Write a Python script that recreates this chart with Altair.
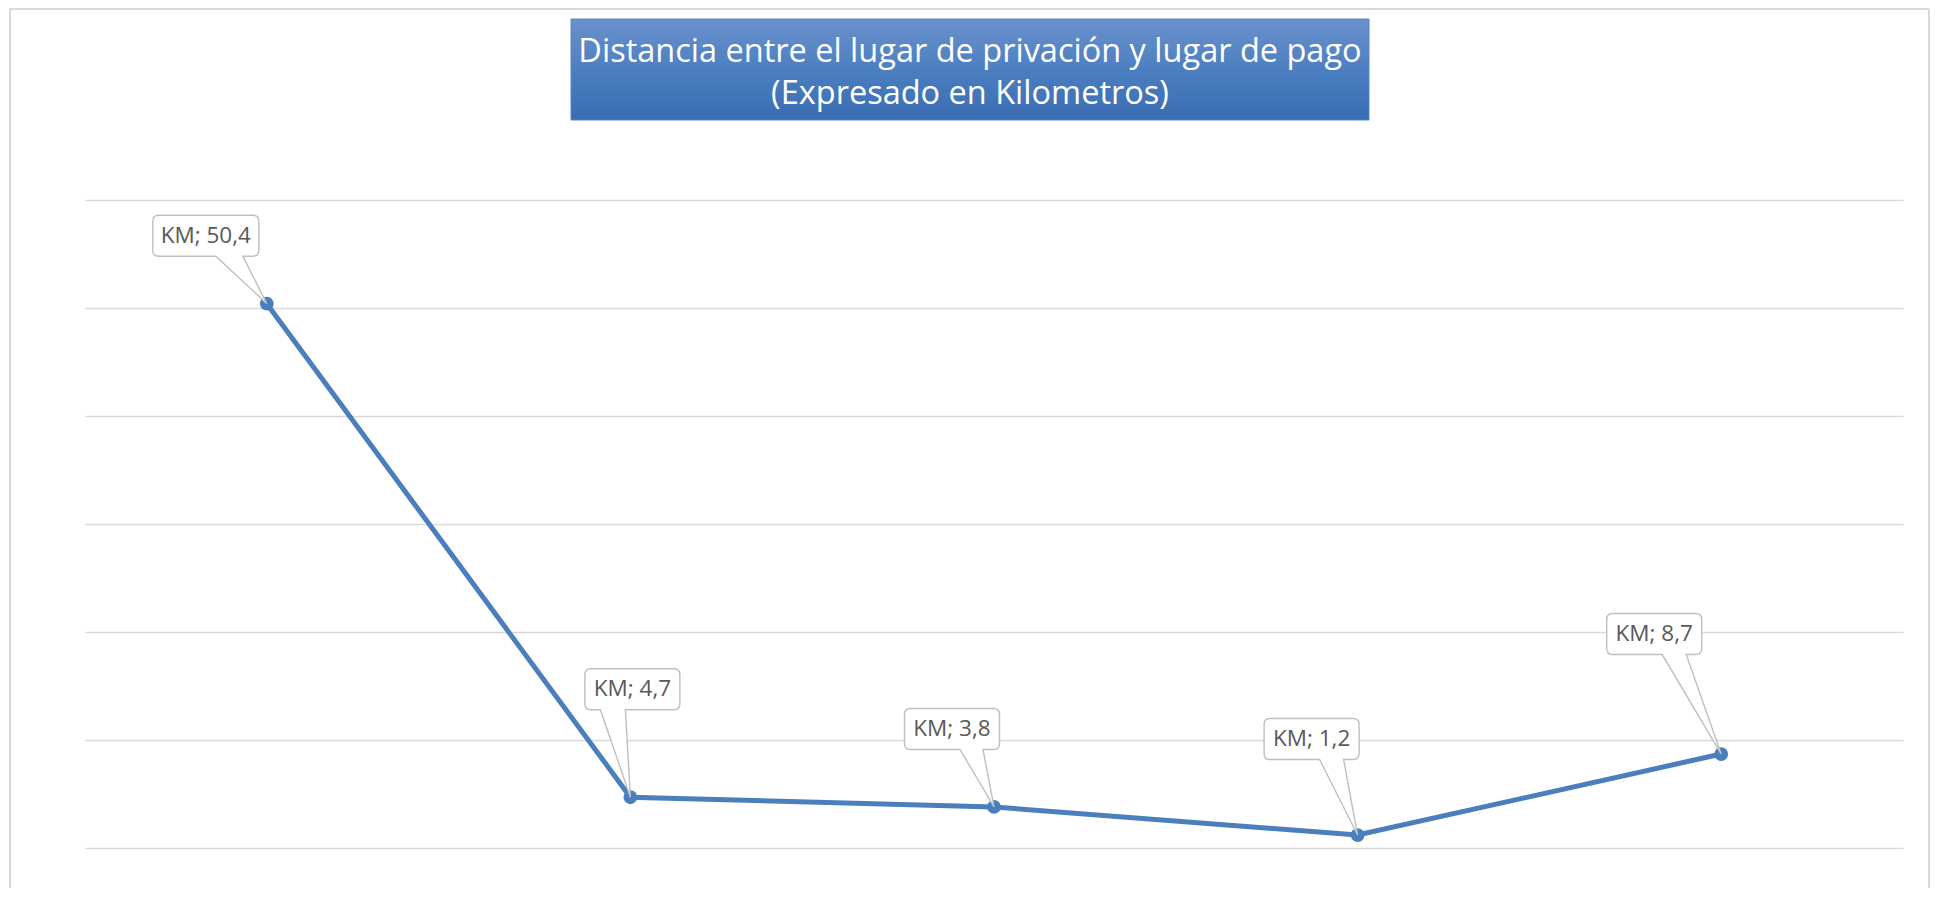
import altair as alt
import pandas as pd

# ---- data ----
CATEGORIES = ["Tramo 1", "Tramo 2", "Tramo 3", "Tramo 4", "Tramo 5"]
KM = [50.4, 4.7, 3.8, 1.2, 8.7]
SERIES = "KM"
TITLE_LINES = ["Distancia entre el lugar de privación y lugar de pago",
               "(Expresado en Kilometros)"]
Y_TICKS = [0, 10, 20, 30, 40, 50, 60]

# ---- style: callout placement relative to each point (pixels) ----
LABEL_OFFSETS = [(-61, -68), (2, -108), (-42, -78), (-46, -96), (-67, -120)]
WEDGE_BASES = [(10, 37), (-32, -7), (8, 31), (8, 32), (8, 32)]

W, H = 1818, 648
FONT = "Open Sans"
LINE_COLOR = "#4A7EBC"
GRID = "#d9d9d9"

labels = [f"{SERIES}; {v:.1f}".replace(".", ",") for v in KM]
df = pd.DataFrame({"cat": CATEGORIES, "km": KM, "label": labels})
one = pd.DataFrame({"k": [0]})

X = alt.X("cat:N", sort=CATEGORIES, axis=None)
Y = alt.Y("km:Q", scale=alt.Scale(domain=[0, 60], nice=False, zero=True),
          axis=alt.Axis(values=Y_TICKS, labels=False, ticks=False, domain=False,
                        grid=True, gridColor=GRID, gridWidth=1.5, title=None))

line = alt.Chart(df).mark_line(color=LINE_COLOR, strokeWidth=5).encode(x=X, y=Y)
pts = alt.Chart(df).mark_point(filled=True, color=LINE_COLOR, size=190, opacity=1).encode(x=X, y=Y)


def callout_path(text, off, wedge):
    bx, by = off
    w = 18 + 11 * len(text)
    h = 41
    r = 6
    x0, x1 = bx - w / 2, bx + w / 2
    y0, y1 = by - h / 2, by + h / 2
    wl, wr = bx + wedge[0], bx + wedge[1]
    p = (f"M{x0+r},{y0} L{x1-r},{y0} Q{x1},{y0} {x1},{y0+r} L{x1},{y1-r} "
         f"Q{x1},{y1} {x1-r},{y1} L{wr},{y1} L0,0 L{wl},{y1} L{x0+r},{y1} "
         f"Q{x0},{y1} {x0},{y1-r} L{x0},{y0+r} Q{x0},{y0} {x0+r},{y0} Z")
    return p


callouts = []
for i, c in enumerate(CATEGORIES):
    base = alt.Chart(df).transform_filter(alt.datum.cat == c)
    shape = callout_path(labels[i], LABEL_OFFSETS[i], WEDGE_BASES[i])
    box = base.mark_point(shape=shape, size=4, filled=True, fill="white",
                          stroke="#bfbfbf", strokeWidth=1.4, opacity=1).encode(x=X, y=Y)
    txt = base.mark_text(font=FONT, fontSize=22.5, color="#595959",
                         dx=LABEL_OFFSETS[i][0], dy=LABEL_OFFSETS[i][1],
                         baseline="middle", align="center").encode(x=X, y=Y, text="label:N")
    callouts += [box, txt]

# title banner
grad = alt.LinearGradient(gradient="linear",
                          stops=[alt.GradientStop(color="#6B91CB", offset=0),
                                 alt.GradientStop(color="#4C7FC1", offset=0.5),
                                 alt.GradientStop(color="#3A6CB2", offset=1)],
                          x1=0, x2=0, y1=0, y2=1)
banner = alt.Chart(one).mark_rect(fill=grad, stroke="#5a86c5", strokeWidth=1).encode(
    x=alt.value(486), x2=alt.value(1284), y=alt.value(-181), y2=alt.value(-80))
t1 = alt.Chart(one).mark_text(font=FONT, fontSize=32.5, color="white", align="center",
                              baseline="alphabetic").encode(
    x=alt.value(885), y=alt.value-138 if False else alt.value(-138), text=alt.value(TITLE_LINES[0]))
t2 = alt.Chart(one).mark_text(font=FONT, fontSize=32.5, color="white", align="center",
                              baseline="alphabetic").encode(
    x=alt.value(885), y=alt.value(-96), text=alt.value(TITLE_LINES[1]))

# outer frame
fl = alt.Chart(one).mark_rule(color=GRID, strokeWidth=2).encode(
    x=alt.value(-75), y=alt.value(-191), y2=alt.value(700))
ft = alt.Chart(one).mark_rule(color=GRID, strokeWidth=2).encode(
    x=alt.value(-75), x2=alt.value(1844), y=alt.value(-191))
fr = alt.Chart(one).mark_rule(color=GRID, strokeWidth=2).encode(
    x=alt.value(1844), y=alt.value(-191), y2=alt.value(700))

chart = alt.layer(fl, ft, fr, line, pts, *callouts, banner, t1, t2).properties(
    width=W, height=H,
    padding={"left": 77, "top": 192, "right": 27, "bottom": 40},
    autosize=alt.AutoSizeParams(type="none"),
    background="white",
).configure_view(stroke=None)

chart.save("out.html", embed_options={"renderer": "svg", "actions": False})
